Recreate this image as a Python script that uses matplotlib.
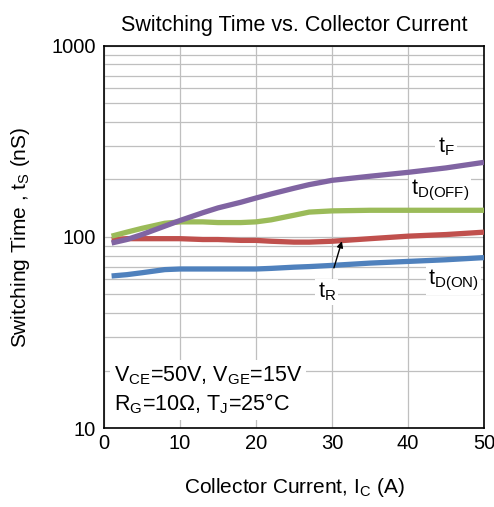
import matplotlib
matplotlib.use('Agg')
import matplotlib.pyplot as plt
from matplotlib.ticker import FixedLocator, NullFormatter

plt.rcParams['font.family'] = ['Liberation Sans', 'DejaVu Sans']
plt.rcParams['mathtext.default'] = 'regular'

# 数据
ic = [1, 3, 5, 8, 10, 13, 15, 18, 20, 22, 25, 27, 30, 35, 40, 45, 50]
t_f = [93, 97, 103, 114, 122, 134, 142, 152, 160, 168, 180, 188, 198, 208, 218, 230, 246]
t_doff = [101, 106, 111, 118, 120, 120, 119, 119, 120, 123, 130, 135, 137, 138, 138, 138, 138]
t_r = [97, 98, 98, 98, 98, 97, 97, 96, 96, 95, 94, 94, 95, 98, 101, 103, 106]
t_don = [62.5, 63.5, 65, 67.5, 68, 68, 68, 68, 68, 68.5, 69.5, 70, 71, 73, 74.5, 76, 78]

x_ticks = [0, 10, 20, 30, 40, 50]
y_ticks = [10, 100, 1000]

fig = plt.figure(figsize=(4.94, 5.07), dpi=100)
ax = fig.add_axes([0.2105, 0.1558, 0.7693, 0.7535])

ax.plot(ic, t_don, color='#4F81BD', lw=3.8, solid_capstyle='butt', zorder=3)
ax.plot(ic, t_r, color='#C0504D', lw=3.8, solid_capstyle='butt', zorder=3)
ax.plot(ic, t_doff, color='#9BBB59', lw=3.8, solid_capstyle='butt', zorder=3)
ax.plot(ic, t_f, color='#8064A2', lw=3.8, solid_capstyle='butt', zorder=4)

ax.set_yscale('log')
ax.set_xlim(0, 50)
ax.set_ylim(10, 1000)
ax.set_xticks(x_ticks)
ax.set_yticks(y_ticks)
ax.set_yticklabels([str(v) for v in y_ticks])
minor = [m * d for d in (10, 100) for m in range(2, 10)]
ax.yaxis.set_minor_locator(FixedLocator(minor))
ax.yaxis.set_minor_formatter(NullFormatter())
ax.tick_params(which='both', length=0, labelsize=14.5, pad=6)
ax.tick_params(axis='x', pad=4)
ax.grid(True, which='both', color='#BFBFBF', lw=0.9)
ax.set_axisbelow(True)
for s in ax.spines.values():
    s.set_linewidth(1.2)

ax.set_title('Switching Time vs. Collector Current', fontsize=15.5, pad=11)
ax.set_xlabel('Collector Current, $I_C$ (A)', fontsize=15, labelpad=17)
ax.set_ylabel('Switching Time , $t_S$ (nS)', fontsize=15, labelpad=14)

# 曲线标签
box = dict(facecolor='white', edgecolor='none', pad=1.5)
ax.text(45, 296, '$t_F$', fontsize=15.5, ha='center', va='center', bbox=box, zorder=5)
ax.text(44.2, 176, '$t_{D(OFF)}$', fontsize=15.5, ha='center', va='center', bbox=box, zorder=5)
ax.text(46, 59, '$t_{D(ON)}$', fontsize=15.5, ha='center', va='center', bbox=box, zorder=5)
ax.annotate('$t_R$', xy=(31.3, 95), xytext=(29.3, 51.5), fontsize=15.5,
            ha='center', va='center', bbox=box, zorder=5,
            arrowprops=dict(arrowstyle='-|>', color='black', lw=1, shrinkA=8, shrinkB=0,
                            mutation_scale=9))

ax.text(1.3, 15.8, '$V_{CE}$=50V, $V_{GE}$=15V\n$R_G$=10Ω, $T_J$=25°C', fontsize=15.5,
        ha='left', va='center', linespacing=1.25,
        bbox=dict(facecolor='white', edgecolor='none', pad=3), zorder=5)

fig.savefig('out.png', dpi=100)
